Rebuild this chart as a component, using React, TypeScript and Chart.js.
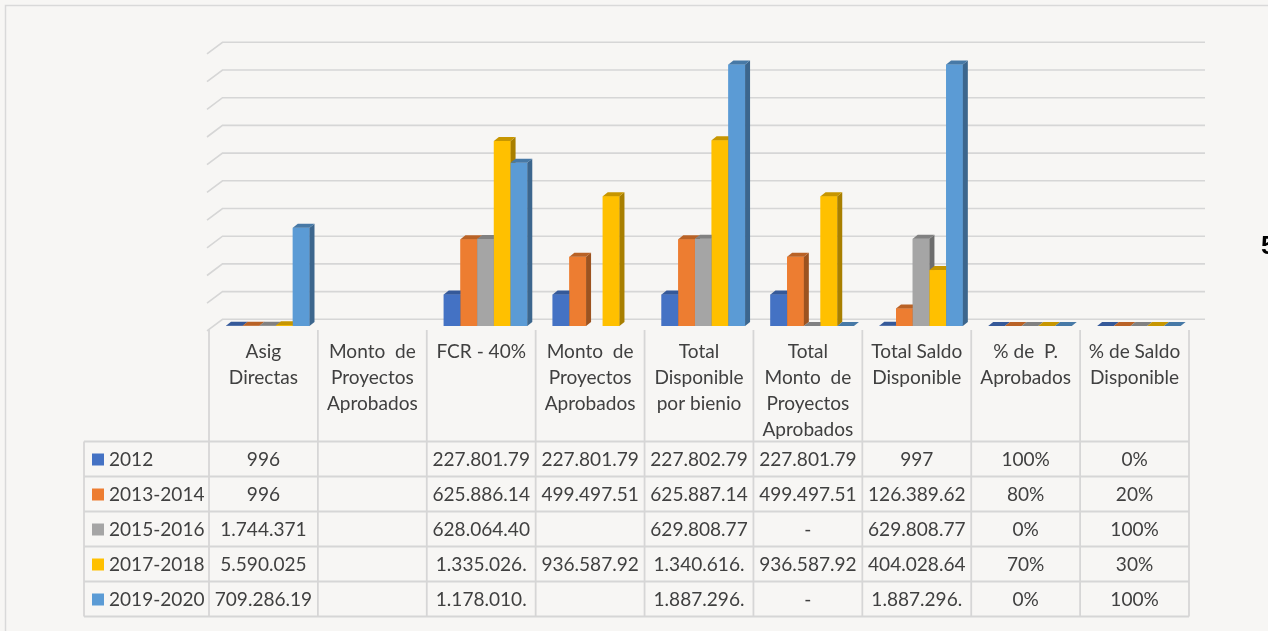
import React, { useEffect, useRef } from "react";
import { Chart, registerables } from "chart.js";

Chart.register(...registerables);

const categoryLines: string[][] = [
  ["Asig", "Directas"],
  ["Monto  de", "Proyectos", "Aprobados"],
  ["FCR - 40%"],
  ["Monto  de", "Proyectos", "Aprobados"],
  ["Total", "Disponible", "por bienio"],
  ["Total", "Monto  de", "Proyectos", "Aprobados"],
  ["Total Saldo", "Disponible"],
  ["% de  P.", "Aprobados"],
  ["% de Saldo", "Disponible"],
];
const categories = categoryLines.map((l) => l.join(" "));

const seriesNames = ["2012", "2013-2014", "2015-2016", "2017-2018", "2019-2020"];

const values2012 = [996, null, 227801.79, 227801.79, 227802.79, 227801.79, 997, 1, 0];
const values2013 = [996, null, 625886.14, 499497.51, 625887.14, 499497.51, 126389.62, 0.8, 0.2];
const values2015 = [1744.371, null, 628064.4, null, 629808.77, 0, 629808.77, 0, 1];
const values2017 = [5590.025, null, 1335026, 936587.92, 1340616, 936587.92, 404028.64, 0.7, 0.3];
const values2019 = [709286.19, null, 1178010, null, 1887296, 0, 1887296, 0, 1];

const table2012 = ["996", "", "227.801.79", "227.801.79", "227.802.79", "227.801.79", "997", "100%", "0%"];
const table2013 = ["996", "", "625.886.14", "499.497.51", "625.887.14", "499.497.51", "126.389.62", "80%", "20%"];
const table2015 = ["1.744.371", "", "628.064.40", "", "629.808.77", "-", "629.808.77", "0%", "100%"];
const table2017 = ["5.590.025", "", "1.335.026.", "936.587.92", "1.340.616.", "936.587.92", "404.028.64", "70%", "30%"];
const table2019 = ["709.286.19", "", "1.178.010.", "", "1.887.296.", "-", "1.887.296.", "0%", "100%"];

const gridValues = [0, 200000, 400000, 600000, 800000, 1000000, 1200000, 1400000, 1600000, 1800000, 2000000];

const seriesValues = [values2012, values2013, values2015, values2017, values2019];
const tableRows = [table2012, table2013, table2015, table2017, table2019];
const colors = ["#4472C4", "#ED7D31", "#A5A5A5", "#FFC000", "#5B9BD5"];

function shade(hex: string, f: number): string {
  const n = parseInt(hex.slice(1), 16);
  const r = Math.round(((n >> 16) & 255) * f);
  const g = Math.round(((n >> 8) & 255) * f);
  const b = Math.round((n & 255) * f);
  return `rgb(${r},${g},${b})`;
}

const TEXT = "#404040";
const LINE = "#d6d6d6";
const FONT_FAMILY = "Lato, 'Open Sans', sans-serif";
const X_SHIFT = 4.3; // table columns vs 3D bar fronts
const DX = 5;
const DY = 4;

const excelPlugin = {
  id: "excel3d",
  beforeDraw(chart: any) {
    const ctx = chart.ctx as CanvasRenderingContext2D;
    ctx.save();
    ctx.fillStyle = "#f7f6f4";
    ctx.fillRect(0, 0, chart.width, chart.height);
    ctx.strokeStyle = "#d9d9d9";
    ctx.lineWidth = 1.5;
    ctx.beginPath();
    ctx.moveTo(5.5, chart.height);
    ctx.lineTo(5.5, 5.5);
    ctx.lineTo(chart.width, 5.5);
    ctx.stroke();
    ctx.restore();
  },
  beforeDatasetsDraw(chart: any) {
    const ctx = chart.ctx as CanvasRenderingContext2D;
    const y = chart.scales.y;
    const area = chart.chartArea;
    const left = area.left - X_SHIFT - 2;
    ctx.save();
    ctx.strokeStyle = LINE;
    ctx.lineWidth = 1.6;
    for (const v of gridValues) {
      const yb = y.getPixelForValue(v) - 6.7;
      ctx.beginPath();
      ctx.moveTo(left, yb + 11.6);
      ctx.lineTo(left + 15.5, yb);
      ctx.lineTo(1205, yb);
      ctx.stroke();
    }
    ctx.restore();
  },
  afterDatasetsDraw(chart: any) {
    const ctx = chart.ctx as CanvasRenderingContext2D;
    ctx.save();
    for (let j = 0; j < categories.length; j++) {
      for (let i = 0; i < seriesValues.length; i++) {
        const v = seriesValues[i][j];
        if (v === null || v === undefined) continue;
        const el = chart.getDatasetMeta(i).data[j];
        if (!el) continue;
        const p = el.getProps(["x", "y", "base", "width"], true);
        const x0 = p.x - p.width / 2;
        const x1 = p.x + p.width / 2;
        const top = Math.min(p.y, p.base);
        const base = Math.max(p.y, p.base);
        const c = colors[i];
        ctx.fillStyle = c;
        ctx.fillRect(x0, top, x1 - x0, base - top);
        ctx.fillStyle = shade(c, 0.66);
        ctx.beginPath();
        ctx.moveTo(x1, top);
        ctx.lineTo(x1 + DX, top - DY);
        ctx.lineTo(x1 + DX, base - DY);
        ctx.lineTo(x1, base);
        ctx.closePath();
        ctx.fill();
        ctx.fillStyle = shade(c, 0.78);
        ctx.beginPath();
        ctx.moveTo(x0, top);
        ctx.lineTo(x0 + DX, top - DY);
        ctx.lineTo(x1 + DX, top - DY);
        ctx.lineTo(x1, top);
        ctx.closePath();
        ctx.fill();
      }
    }
    ctx.restore();
  },
  afterDraw(chart: any) {
    const ctx = chart.ctx as CanvasRenderingContext2D;
    const xs = chart.scales.x;
    const area = chart.chartArea;
    const catW = area.width / categories.length;
    const colLeft = (j: number) => xs.getPixelForValue(j) - catW / 2 - X_SHIFT;
    const tableRight = colLeft(categories.length - 1) + catW;
    const legendLeft = 84;
    const headerTop = 330;
    const rowTop = 441.5;
    const rowH = 35;
    const tableBottom = rowTop + rowH * seriesNames.length;

    ctx.save();
    ctx.strokeStyle = LINE;
    ctx.lineWidth = 1.8;
    for (let j = 0; j <= categories.length; j++) {
      const x = j < categories.length ? colLeft(j) : tableRight;
      ctx.beginPath();
      ctx.moveTo(x, headerTop);
      ctx.lineTo(x, tableBottom);
      ctx.stroke();
    }
    ctx.beginPath();
    ctx.moveTo(legendLeft, rowTop);
    ctx.lineTo(legendLeft, tableBottom);
    ctx.stroke();
    for (let r = 0; r <= seriesNames.length; r++) {
      const yy = rowTop + r * rowH;
      ctx.beginPath();
      ctx.moveTo(legendLeft, yy);
      ctx.lineTo(tableRight, yy);
      ctx.stroke();
    }

    ctx.font = `20px ${FONT_FAMILY}`;
    const w1 = ctx.measureText("Disponible").width;
    const w2 = ctx.measureText("227.801.79").width;
    const size = 20 * ((90.7 / w1 + 95.7 / w2) / 2);
    ctx.font = `${size.toFixed(2)}px ${FONT_FAMILY}`;
    ctx.fillStyle = TEXT;
    ctx.textBaseline = "middle";
    ctx.textAlign = "center";
    for (let j = 0; j < categories.length; j++) {
      const cx = colLeft(j) + catW / 2;
      categoryLines[j].forEach((line, k) => {
        ctx.fillText(line, cx, 352 + k * 25.8);
      });
    }
    for (let r = 0; r < seriesNames.length; r++) {
      const cy = rowTop + r * rowH + rowH / 2 + 0.5;
      for (let j = 0; j < categories.length; j++) {
        const t = tableRows[r][j];
        if (!t) continue;
        ctx.fillText(t, colLeft(j) + catW / 2, cy);
      }
      ctx.fillStyle = colors[r];
      ctx.fillRect(92, cy - 6, 12, 12);
      ctx.fillStyle = TEXT;
      ctx.textAlign = "left";
      ctx.fillText(seriesNames[r], 109, cy);
      ctx.textAlign = "center";
    }
    ctx.fillStyle = "#000";
    ctx.font = `bold 26px 'Liberation Sans', Arial, sans-serif`;
    ctx.textAlign = "left";
    ctx.fillText("5", 1261, 247);
    ctx.restore();
  },
};

export default function App() {
  const ref = useRef<HTMLCanvasElement | null>(null);
  useEffect(() => {
    if (!ref.current) return;
    const chart = new Chart(ref.current, {
      type: "bar",
      data: {
        labels: categories,
        datasets: seriesNames.map((name, i) => ({
          label: name,
          data: seriesValues[i] as any,
          backgroundColor: colors[i],
          borderWidth: 0,
          categoryPercentage: 0.767,
          barPercentage: 1,
        })),
      },
      options: {
        responsive: false,
        devicePixelRatio: 1,
        animation: false,
        layout: {
          padding: { left: 213.3, right: 1268 - 1193.3, top: 49, bottom: 631 - 326 },
        },
        plugins: {
          legend: { display: false },
          tooltip: { enabled: false },
        },
        scales: {
          x: { display: false },
          y: { display: false, min: 0, max: 2000000 },
        },
      },
      plugins: [excelPlugin],
    });
    return () => chart.destroy();
  }, []);
  return (
    <canvas
      ref={ref}
      width={1268}
      height={631}
      style={{ position: "fixed", left: 0, top: 0, width: 1268, height: 631 }}
    />
  );
}
